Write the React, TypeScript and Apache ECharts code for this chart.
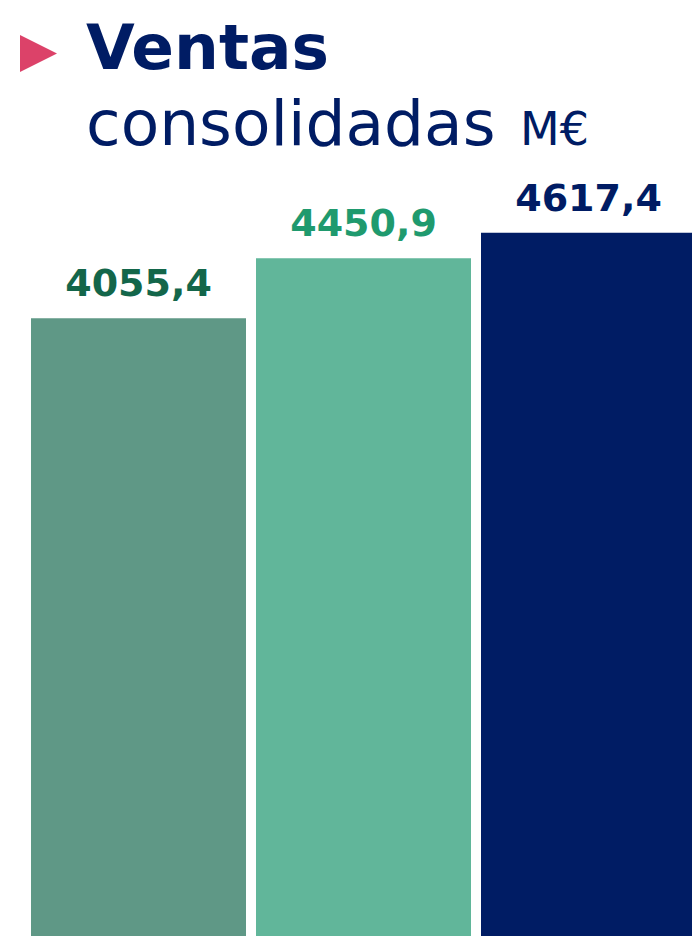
import React, { useEffect, useRef } from "react";
import * as echarts from "echarts";

const categories = ["A", "B", "C"];
const values = [4055.4, 4450.9, 4617.4];
const valueLabels = ["4055,4", "4450,9", "4617,4"];
const barColors = ["#5F9886", "#61B69A", "#001C64"];
const labelColors = ["#13664A", "#1F9A6E", "#001C64"];
const titleMain = "Ventas";
const titleSub = "consolidadas";
const titleUnit = "M€";

export default function App() {
  const ref = useRef<HTMLDivElement>(null);
  useEffect(() => {
    document.body.style.margin = "0";
    document.body.style.overflow = "hidden";
    const chart = echarts.init(ref.current!, undefined, { renderer: "svg" });
    const navy = "#001C64";
    chart.setOption({
      animation: false,
      backgroundColor: "#ffffff",
      grid: { left: 26, right: 0, top: 174.5, bottom: 0, containLabel: false },
      xAxis: {
        type: "category",
        data: categories,
        show: false,
      },
      yAxis: {
        type: "value",
        min: 0,
        max: 5000,
        show: false,
        splitLine: { show: false },
      },
      series: [
        {
          type: "bar",
          barWidth: 215,
          data: values.map((v, i) => ({
            value: v,
            itemStyle: { color: barColors[i] },
            label: {
              show: true,
              position: "top",
              distance: 16,
              formatter: valueLabels[i],
              color: labelColors[i],
              fontFamily: "DejaVu Sans",
              fontWeight: "bold",
              fontSize: 38,
            },
          })),
        },
      ],
      graphic: [
        {
          type: "polygon",
          shape: { points: [[20, 35], [57, 53.5], [20, 72]] },
          style: { fill: "#DC4269" },
        },
        {
          type: "text",
          x: 86,
          y: 47,
          style: {
            text: titleMain,
            fill: navy,
            font: "bold 63px 'DejaVu Sans'",
            verticalAlign: "middle",
            align: "left",
          },
        },
        {
          type: "text",
          x: 86,
          y: 123,
          style: {
            text: titleSub,
            fill: navy,
            font: "63px 'DejaVu Sans'",
            verticalAlign: "middle",
            align: "left",
          },
        },
        {
          type: "text",
          x: 520,
          y: 129,
          style: {
            text: titleUnit,
            fill: navy,
            font: "46px 'DejaVu Sans'",
            verticalAlign: "middle",
            align: "left",
          },
        },
      ],
    });
    return () => chart.dispose();
  }, []);
  return (
    <div
      style={{
        position: "fixed",
        left: 0,
        top: 0,
        width: 692,
        height: 936,
        overflow: "hidden",
      }}
    >
      <div ref={ref} style={{ width: 701, height: 936 }} />
    </div>
  );
}
